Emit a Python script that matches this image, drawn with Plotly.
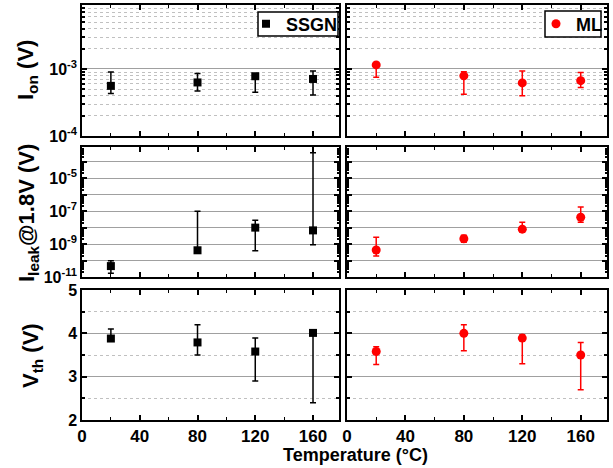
import plotly.graph_objects as go

temps = [20, 80, 120, 160]

# SSGN (left column)
ion_ssgn = [5.6e-4, 6.3e-4, 7.8e-4, 7.1e-4]
ion_ssgn_hi = [9.0e-4, 8.6e-4, 8.4e-4, 9.3e-4]
ion_ssgn_lo = [4.3e-4, 4.7e-4, 4.5e-4, 4.1e-4]

ileak_ssgn = [4.6e-11, 4.2e-10, 1.0e-8, 6.8e-9]
ileak_ssgn_hi = [9.7e-11, 1.0e-7, 2.8e-8, 3.6e-4]
ileak_ssgn_lo = [1.7e-11, 3.5e-10, 3.9e-10, 9.1e-10]

vth_ssgn = [3.88, 3.79, 3.58, 4.01]
vth_ssgn_hi = [4.10, 4.20, 3.89, 4.06]
vth_ssgn_lo = [3.83, 3.50, 2.90, 2.40]

# ML (right column)
ion_ml = [1.15e-3, 7.9e-4, 6.2e-4, 6.7e-4]
ion_ml_hi = [1.2e-3, 9.1e-4, 9.3e-4, 8.9e-4]
ion_ml_lo = [7.5e-4, 4.2e-4, 4.0e-4, 5.3e-4]

ileak_ml = [4.4e-10, 2.1e-9, 8.1e-9, 4.3e-8]
ileak_ml_hi = [2.6e-9, 3.5e-9, 2.1e-8, 1.8e-7]
ileak_ml_lo = [1.9e-10, 1.3e-9, 5.4e-9, 2.1e-8]

vth_ml = [3.58, 4.00, 3.89, 3.50]
vth_ml_hi = [3.69, 4.20, 3.97, 3.79]
vth_ml_lo = [3.28, 3.60, 3.30, 2.70]

x_ticks = [0, 40, 80, 120, 160]
ion_ticks = [1e-4, 1e-3]
ion_ticktext = ["10<sup>-4</sup>", "10<sup>-3</sup>"]
ileak_ticks = [1e-11, 1e-10, 1e-9, 1e-8, 1e-7, 1e-6, 1e-5, 1e-4, 1e-3]
ileak_ticktext = ["10<sup>-11</sup>", "", "10<sup>-9</sup>", "", "10<sup>-7</sup>", "",
                  "10<sup>-5</sup>", "", "10<sup>-3</sup>"]
vth_ticks = [2, 3, 4, 5]

W, H = 613, 468
col_dom = [[82 / W, 339 / W], [347 / W, 607 / W]]
row_dom = [[1 - 136 / H, 1 - 5 / H], [1 - 277 / H, 1 - 147 / H], [1 - 420 / H, 1 - 290 / H]]

FONT = "Liberation Sans, Arial, sans-serif"
fig = go.Figure()

series = {
    0: [(ion_ssgn, ion_ssgn_hi, ion_ssgn_lo), (ileak_ssgn, ileak_ssgn_hi, ileak_ssgn_lo),
        (vth_ssgn, vth_ssgn_hi, vth_ssgn_lo)],
    1: [(ion_ml, ion_ml_hi, ion_ml_lo), (ileak_ml, ileak_ml_hi, ileak_ml_lo),
        (vth_ml, vth_ml_hi, vth_ml_lo)],
}
styles = {
    0: dict(name="SSGN", color="black", symbol="square", size=8, legend="legend"),
    1: dict(name="ML", color="#ff0000", symbol="circle", size=9, legend="legend2"),
}

minor_ion = [k * 10 ** e for e in (-4, -3) for k in range(2, 10)]
minor_ileak = [k * 10 ** e for e in range(-11, -3) for k in range(2, 10)]

for c in (0, 1):
    st = styles[c]
    for r in range(3):
        n = r * 2 + c + 1
        vals, hi, lo = series[c][r]
        plus = [h - v for h, v in zip(hi, vals)]
        minus = [v - l for v, l in zip(vals, lo)]
        fig.add_trace(go.Scatter(
            x=temps, y=vals, mode="markers",
            name=st["name"], showlegend=(r == 0), legend=st["legend"],
            marker=dict(color=st["color"], symbol=st["symbol"], size=st["size"]),
            error_y=dict(type="data", symmetric=False, array=plus, arrayminus=minus,
                         color=st["color"], thickness=1.5, width=3),
            xaxis=f"x{n}", yaxis=f"y{n}",
        ))
        sfx = "" if n == 1 else str(n)
        xa = dict(domain=col_dom[c], range=[0, 178], anchor=f"y{n}", automargin=False,
                  tickmode="array", tickvals=x_ticks, ticks="inside", ticklen=5,
                  tickwidth=1.5, tickcolor="black",
                  showticklabels=(r == 2), showline=True, linecolor="black", linewidth=1.5,
                  mirror="ticks", showgrid=False, zeroline=False,
                  minor=dict(tickvals=[20, 60, 100, 140], ticks="inside", ticklen=3,
                             tickwidth=1.2, tickcolor="black"),
                  tickfont=dict(family=FONT, size=17, color="black", weight="bold"))
        ya = dict(domain=row_dom[r], anchor=f"x{n}", automargin=False,
                  ticks="inside", ticklen=5,
                  tickwidth=1.5, tickcolor="black", showline=True, linecolor="black",
                  linewidth=1.5, mirror="ticks", zeroline=False,
                  showticklabels=(c == 0),
                  gridcolor="#a0a0a0", gridwidth=1.2,
                  tickfont=dict(family=FONT, size=16, color="black", weight="bold"))
        if r == 0:
            ya.update(type="log", range=[-4, -2.045], tickmode="array",
                      tickvals=ion_ticks, ticktext=ion_ticktext,
                      minor=dict(tickvals=minor_ion, ticks="inside", ticklen=3,
                                 tickcolor="black", showgrid=True, griddash="dot",
                                 gridcolor="#c0c0c0", gridwidth=1))
        elif r == 1:
            ya.update(type="log", range=[-11, -3.1], tickmode="array",
                      tickvals=ileak_ticks, ticktext=ileak_ticktext,
                      minor=dict(tickvals=minor_ileak, ticks="inside", ticklen=2,
                                 tickcolor="black", showgrid=False))
        else:
            ya.update(range=[2, 5], tickmode="array", tickvals=vth_ticks,
                      minor=dict(tickvals=[2.5, 3.5, 4.5], ticks="inside", ticklen=3,
                                 tickcolor="black", showgrid=True, griddash="dot",
                                 gridcolor="#c0c0c0", gridwidth=1.2))
        fig.update_layout({f"xaxis{sfx}": xa, f"yaxis{sfx}": ya})

title_font = dict(family=FONT, size=22, color="black", weight="bold")
annotations = [
    dict(text="I<sub>on</sub> (V)", x=27 / W, y=1 - 70 / H, textangle=-90),
    dict(text="I<sub>leak</sub>@1.8V (V)", x=28 / W, y=1 - 213 / H, textangle=-90),
    dict(text="V<sub>th</sub> (V)", x=32 / W, y=1 - 356 / H, textangle=-90),
]
for a in annotations:
    a.update(xref="paper", yref="paper", showarrow=False, font=title_font,
             xanchor="center", yanchor="middle")
annotations.append(dict(text="Temperature (°C)", x=355 / W, y=1 - 455 / H, xref="paper",
                        yref="paper", showarrow=False, xanchor="center", yanchor="middle",
                        font=dict(family=FONT, size=18, color="black", weight="bold")))

# legend frames (drawn as boxes behind the legend text)
shapes = [
    dict(type="rect", xref="paper", yref="paper", x0=258 / W, x1=338 / W,
         y0=1 - 36 / H, y1=1 - 12 / H, fillcolor="white",
         line=dict(color="black", width=1.5), layer="above"),
    dict(type="rect", xref="paper", yref="paper", x0=545 / W, x1=601 / W,
         y0=1 - 37 / H, y1=1 - 11 / H, fillcolor="white",
         line=dict(color="black", width=1.5), layer="above"),
]

leg_common = dict(bgcolor="rgba(0,0,0,0)", borderwidth=0,
                  font=dict(family=FONT, size=18, color="black", weight="bold"),
                  xanchor="left", yanchor="middle", itemclick=False, itemwidth=30)
fig.update_layout(
    width=W, height=H, margin=dict(l=0, r=0, t=0, b=0, autoexpand=False),
    paper_bgcolor="white", plot_bgcolor="white",
    annotations=annotations, shapes=shapes,
    legend=dict(x=246 / W, y=1 - 24 / H, **leg_common),
    legend2=dict(x=536 / W, y=1 - 24 / H, **leg_common),
)

fig.write_html("out.html", config={"displayModeBar": False},
               post_script="document.body.style.margin='0px';document.body.style.overflow='hidden';")
